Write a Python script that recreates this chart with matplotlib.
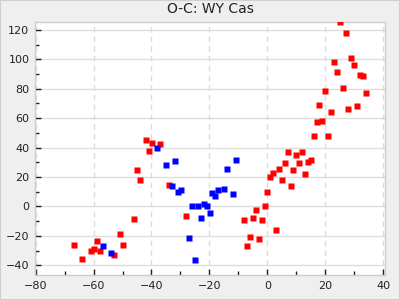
import matplotlib
matplotlib.use("Agg")
import matplotlib.pyplot as plt
from matplotlib.ticker import MultipleLocator

title = "O-C: WY Cas"

red_x = [-66.7, -63.9, -60.8, -59.8, -58.8, -57.7, -52.9, -50.8, -49.8, -46.0,
         -45.0, -43.9, -41.9, -40.8, -39.8, -37.0, -33.9, -28.1, -8.1, -7.0,
         -6.0, -5.0, -3.9, -2.9, -1.9, -0.8, -0.1, 0.9, 1.9, 3.0,
         4.0, 5.0, 6.1, 7.1, 8.1, 8.8, 9.9, 10.9, 11.9, 13.0,
         14.0, 15.0, 16.1, 17.1, 17.8, 18.8, 19.9, 20.9, 21.9, 23.0,
         24.0, 25.0, 26.1, 27.1, 27.8, 28.8, 29.9, 30.9, 31.9, 33.0, 34.0]
red_y = [-26.4, -35.9, -30.3, -29.1, -23.5, -30.5, -33.2, -18.9, -26.4, -8.7,
         24.6, 17.8, 45.0, 37.5, 43.0, 42.3, 14.4, -6.7, -9.4, -27.1,
         -20.9, -8.0, -2.6, -22.3, -9.4, 0.1, 9.7, 19.9, 22.6, -16.2,
         25.3, 17.8, 29.4, 36.8, 13.7, 24.6, 34.8, 29.4, 36.8, 21.9,
         30.0, 31.4, 47.7, 57.2, 68.8, 57.9, 78.3, 47.7, 64.0, 98.0,
         91.2, 125.2, 80.4, 117.7, 66.1, 100.7, 96.0, 68.1, 89.2, 88.5, 77.0]

blue_x = [-56.7, -53.9, -38.1, -35.0, -31.9, -32.9, -30.8, -29.8, -26.0, -23.9,
          -21.9, -20.8, -19.8, -22.9, -27.0, -25.0, -19.1, -18.1, -17.0, -15.0,
          -11.9, -13.9, -10.8]
blue_y = [-27.1, -31.8, 39.6, 28.0, 30.7, 13.7, 9.7, 11.0, 0.1, 0.1,
          1.5, 0.1, -4.6, -8.0, -21.6, -36.6, 9.0, 7.4, 11.0, 11.7,
          8.3, 25.3, 31.4]

fig = plt.figure(figsize=(4, 3), dpi=100, facecolor="#efefef")
fig.patches.append(plt.Rectangle((0, 0), 1, 1, transform=fig.transFigure,
                                 fill=False, edgecolor="#d0d0d0", lw=1.5))
ax = fig.add_axes([0.0875, 0.0833, 0.875, 0.8444])
ax.set_facecolor("white")

ax.plot(red_x, red_y, "s", color="#ff0000", ms=4.3, mec="none", zorder=3)
ax.plot(blue_x, blue_y, "s", color="#0000ff", ms=4.3, mec="none", zorder=4)

ax.set_xlim(-80.2, 40.6)
ax.set_ylim(-46.6, 125.6)
ax.xaxis.set_major_locator(MultipleLocator(20))
ax.xaxis.set_minor_locator(MultipleLocator(10))
ax.yaxis.set_major_locator(MultipleLocator(20))
ax.yaxis.set_minor_locator(MultipleLocator(10))

ax.tick_params(which="both", direction="in", colors="#222222", labelsize=8,
               top=False, right=False, width=1)
ax.tick_params(which="major", length=4, pad=4)
ax.tick_params(which="minor", length=3)

ax.grid(axis="y", which="major", color="#dddddd", lw=1, ls="-", zorder=0)
ax.grid(axis="x", which="major", color="#dddddd", lw=1, ls=(0, (4, 3)), zorder=0)
ax.set_axisbelow(True)

for s in ax.spines.values():
    s.set_color("#cccccc")
    s.set_linewidth(1)

ax.set_title(title, fontsize=10, color="#222222", pad=6)

fig.savefig("out.png", dpi=100, facecolor=fig.get_facecolor())
